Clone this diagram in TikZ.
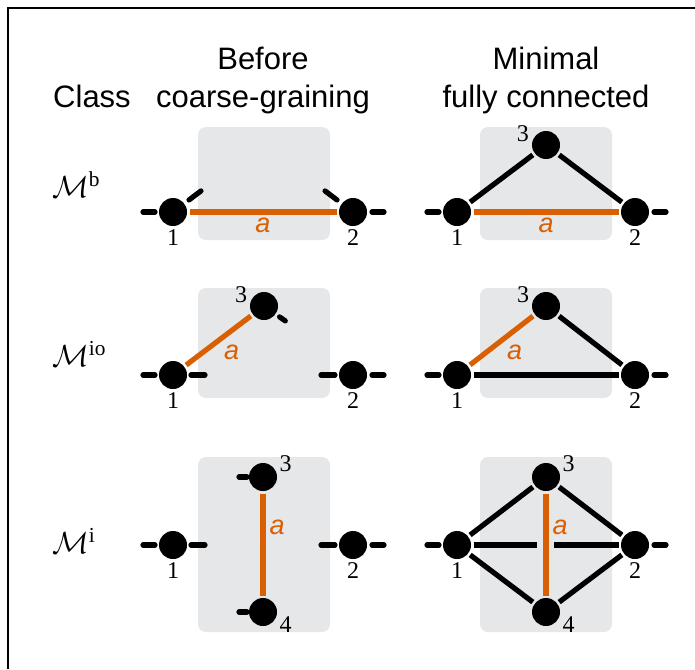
\documentclass[tikz,border=0pt]{standalone}
\usepackage{graphicx}
\usepackage{fontspec}
\setmainfont{Liberation Serif}
\setsansfont{Liberation Sans}
\usetikzlibrary{positioning}

\definecolor{edgeorange}{RGB}{217,95,2}
\definecolor{boxgray}{RGB}{230,231,233}

\tikzset{
    vtx/.style={circle, fill=black, minimum size=28pt, inner sep=0pt, outer sep=2.5pt},
    edge/.style={line width=5.2pt, black},
    redge/.style={line width=5.2pt, edgeorange},
    stub/.style={line width=5.2pt, line cap=round},
    panel/.style={fill=boxgray, rounded corners=8pt},
    vlab/.style={font=\fontsize{24}{24}\selectfont, inner sep=0.5pt},
    alab/.style={font=\sffamily\itshape\fontsize{27}{27}\selectfont, text=edgeorange, inner sep=2pt},
    head/.style={font=\sffamily\fontsize{31}{36}\selectfont, anchor=base},
    cls/.style={anchor=west, inner sep=0pt}
}
% short loose edge ends: node, angle, start, length
\newcommand{\stubat}[4]{\draw[stub] (#1.center) ++(#2:#3) -- ++(#2:#4);}
\newcommand{\clsname}[1]{\scalebox{3.05}{$\mathcal{M}^{\mathrm{#1}}$}}

\begin{document}
\begin{tikzpicture}[x=1pt, y=-1pt]
    \useasboundingbox (0,0) rectangle (695,669);
    \draw[line width=1.2pt] (8,669) -- (8,8) -- (695,8);

    % headings
    \node[head] (hclass) at (92,107) {Class};
    \node[head] (hpreA) at (263,70) {Before};
    \node[head] (hpreB) at (263,107) {coarse-graining};
    \node[head] (hminA) at (546,70) {Minimal};
    \node[head] (hminB) at (546,107) {fully connected};

    % class names
    \node[cls] (cb) at (52,185) {\clsname{b}};
    \node[cls] (cio) at (52,354) {\clsname{io}};
    \node[cls] (ci) at (52,541) {\clsname{i}};

    % grey panels
    \foreach \px in {198,480} {
        \fill[panel] (\px,127) rectangle ++(132,113);
        \fill[panel] (\px,288) rectangle ++(132,110);
        \fill[panel] (\px,457) rectangle ++(132,175);
    }

    % class b
    \node[vtx, label={[vlab]below:1}] (preb1) at (173,212) {};
    \node[vtx, label={[vlab]below:2}] (preb2) at (353,212) {};
    \draw[redge] (preb1) -- node[alab, below=1pt] {a} (preb2);
    \stubat{preb1}{180}{18}{12}
    \stubat{preb2}{0}{19}{12}
    \stubat{preb1}{-37}{20}{15}
    \stubat{preb2}{-143}{20}{15}

    \node[vtx, label={[vlab]below:1}] (minb1) at (457,212) {};
    \node[vtx, label={[vlab]below:2}] (minb2) at (635,212) {};
    \node[vtx, label={[vlab]172:3}] (minb3) at (546,145) {};
    \draw[redge] (minb1) -- node[alab, below=1pt] {a} (minb2);
    \draw[edge] (minb1) -- (minb3);
    \draw[edge] (minb2) -- (minb3);
    \stubat{minb1}{180}{18}{12}
    \stubat{minb2}{0}{19}{12}

    % class io
    \node[vtx, label={[vlab]below:1}] (preio1) at (173,375) {};
    \node[vtx, label={[vlab]below:2}] (preio2) at (353,375) {};
    \node[vtx, label={[vlab]170:3}] (preio3) at (264,306) {};
    \draw[redge] (preio1) -- node[alab, below right=0pt and 1pt] {a} (preio3);
    \stubat{preio1}{180}{18}{12}
    \stubat{preio1}{0}{18}{14}
    \stubat{preio2}{180}{18}{14}
    \stubat{preio2}{0}{19}{12}
    \stubat{preio3}{35}{19}{7}

    \node[vtx, label={[vlab]below:1}] (minio1) at (457,375) {};
    \node[vtx, label={[vlab]below:2}] (minio2) at (635,375) {};
    \node[vtx, label={[vlab]170:3}] (minio3) at (546,306) {};
    \draw[redge] (minio1) -- node[alab, below right=0pt and 1pt] {a} (minio3);
    \draw[edge] (minio1) -- (minio2);
    \draw[edge] (minio2) -- (minio3);
    \stubat{minio1}{180}{18}{12}
    \stubat{minio2}{0}{19}{12}

    % class i
    \node[vtx, label={[vlab]below:1}] (prei1) at (173,545) {};
    \node[vtx, label={[vlab]below:2}] (prei2) at (353,545) {};
    \node[vtx, label={[vlab]15:3}] (prei3) at (263,477) {};
    \node[vtx, label={[vlab]-15:4}] (prei4) at (263,612) {};
    \draw[redge] (prei3) -- node[alab, pos=0.33, right=2pt] {a} (prei4);
    \stubat{prei1}{180}{18}{12}
    \stubat{prei1}{0}{18}{14}
    \stubat{prei2}{180}{18}{14}
    \stubat{prei2}{0}{19}{12}
    \stubat{prei3}{180}{16}{8}
    \stubat{prei4}{180}{16}{8}

    \node[vtx, label={[vlab]below:1}] (mini1) at (457,545) {};
    \node[vtx, label={[vlab]below:2}] (mini2) at (635,545) {};
    \node[vtx, label={[vlab]15:3}] (mini3) at (546,477) {};
    \node[vtx, label={[vlab]-15:4}] (mini4) at (546,612) {};
    \coordinate (gapL) at (537,545);
    \coordinate (gapR) at (554,545);
    \draw[edge] (mini1) -- (gapL);
    \draw[edge] (gapR) -- (mini2);
    \draw[edge] (mini1) -- (mini3);
    \draw[edge] (mini1) -- (mini4);
    \draw[edge] (mini2) -- (mini3);
    \draw[edge] (mini2) -- (mini4);
    \draw[redge] (mini3) -- node[alab, pos=0.33, right=2pt] {a} (mini4);
    \stubat{mini1}{180}{18}{12}
    \stubat{mini2}{0}{19}{12}
\end{tikzpicture}
\end{document}
